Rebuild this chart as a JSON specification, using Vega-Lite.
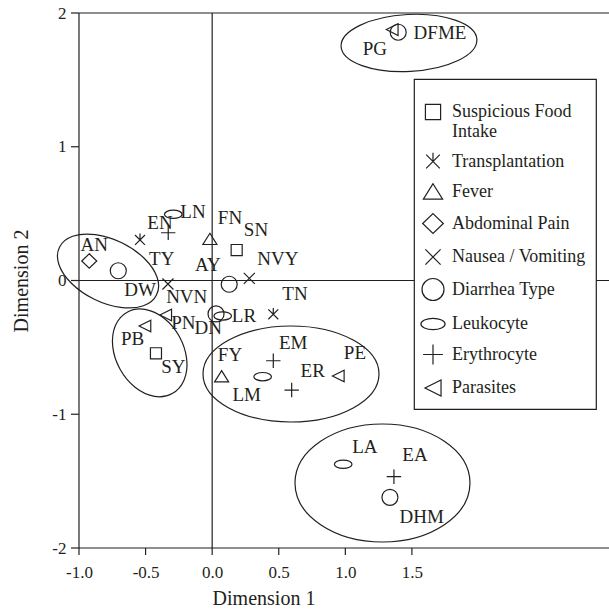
{
  "$schema": "https://vega.github.io/schema/vega-lite/v6.json",
  "autosize": "none",
  "width": 530,
  "height": 535,
  "padding": {"left": 79, "top": 13, "right": 0, "bottom": 62},
  "background": "white",
  "config": {
    "font": "Liberation Serif",
    "view": {"stroke": null},
    "axis": {
      "grid": false,
      "domain": false,
      "ticks": false,
      "labelFont": "Liberation Serif",
      "labelFontSize": 17,
      "labelColor": "#231f20",
      "titleFont": "Liberation Serif",
      "titleFontSize": 20,
      "titleFontWeight": "normal",
      "titleColor": "#231f20"
    },
    "legend": {
      "orient": "none",
      "legendX": 335,
      "legendY": 66,
      "fillColor": "white",
      "strokeColor": "#231f20",
      "strokeWidth": 1.2,
      "padding": 10,
      "titleFontSize": 8,
      "titlePadding": 3,
      "symbolOffset": -3,
      "labelOffset": 7,
      "rowPadding": 8.5,
      "labelFont": "Liberation Serif",
      "labelFontSize": 18,
      "labelColor": "#231f20",
      "labelLimit": 400,
      "symbolSize": 484,
      "symbolStrokeColor": "#231f20",
      "symbolStrokeWidth": 1.2,
      "symbolFillColor": "transparent"
    }
  },
  "datasets": {
    "points": [
      {"cat": "Suspicious Food Intake", "x": 0.184, "y": 0.228},
      {"cat": "Suspicious Food Intake", "x": -0.422, "y": -0.544},
      {"cat": "Transplantation", "x": -0.542, "y": 0.303},
      {"cat": "Transplantation", "x": 0.459, "y": -0.253},
      {"cat": "Fever", "x": -0.017, "y": 0.308},
      {"cat": "Fever", "x": 0.071, "y": -0.719},
      {"cat": "Abdominal Pain", "x": -0.923, "y": 0.146},
      {"cat": "Nausea / Vomiting", "x": -0.332, "y": -0.026},
      {"cat": "Nausea / Vomiting", "x": 0.279, "y": 0.016},
      {"cat": "Diarrhea Type", "x": -0.705, "y": 0.073},
      {"cat": "Diarrhea Type", "x": 0.128, "y": -0.028},
      {"cat": "Diarrhea Type", "x": 0.029, "y": -0.25},
      {"cat": "Diarrhea Type", "x": 1.397, "y": 1.856},
      {"cat": "Diarrhea Type", "x": 1.335, "y": -1.621},
      {"cat": "Leukocyte", "x": -0.292, "y": 0.495},
      {"cat": "Leukocyte", "x": 0.079, "y": -0.265},
      {"cat": "Leukocyte", "x": 0.379, "y": -0.719},
      {"cat": "Leukocyte", "x": 0.984, "y": -1.374},
      {"cat": "Erythrocyte", "x": -0.33, "y": 0.357},
      {"cat": "Erythrocyte", "x": 0.459, "y": -0.6},
      {"cat": "Erythrocyte", "x": 0.597, "y": -0.819},
      {"cat": "Erythrocyte", "x": 1.365, "y": -1.467},
      {"cat": "Parasites", "x": -0.349, "y": -0.258},
      {"cat": "Parasites", "x": -0.505, "y": -0.34},
      {"cat": "Parasites", "x": 0.947, "y": -0.714},
      {"cat": "Parasites", "x": 1.352, "y": 1.876}
    ],
    "labels": [
      {"label": "AN", "x": -0.885, "y": 0.265},
      {"label": "TY", "x": -0.379, "y": 0.159},
      {"label": "DW", "x": -0.542, "y": -0.071},
      {"label": "EN", "x": -0.392, "y": 0.43},
      {"label": "LN", "x": -0.144, "y": 0.512},
      {"label": "FN", "x": 0.134, "y": 0.465},
      {"label": "SN", "x": 0.329, "y": 0.378},
      {"label": "AY", "x": -0.032, "y": 0.116},
      {"label": "NVY", "x": 0.494, "y": 0.161},
      {"label": "NVN", "x": -0.191, "y": -0.126},
      {"label": "TN", "x": 0.622, "y": -0.101},
      {"label": "LR", "x": 0.239, "y": -0.265},
      {"label": "PN", "x": -0.217, "y": -0.316},
      {"label": "DN", "x": -0.029, "y": -0.357},
      {"label": "PB", "x": -0.597, "y": -0.44},
      {"label": "SY", "x": -0.292, "y": -0.644},
      {"label": "FY", "x": 0.134, "y": -0.557},
      {"label": "EM", "x": 0.609, "y": -0.465},
      {"label": "ER", "x": 0.755, "y": -0.674},
      {"label": "PE", "x": 1.072, "y": -0.544},
      {"label": "LM", "x": 0.259, "y": -0.856},
      {"label": "LA", "x": 1.147, "y": -1.243},
      {"label": "EA", "x": 1.523, "y": -1.305},
      {"label": "DHM", "x": 1.573, "y": -1.766},
      {"label": "PG", "x": 1.222, "y": 1.729},
      {"label": "DFME", "x": 1.711, "y": 1.848}
    ],
    "clusters": [
      {"cluster": "A", "x": -0.782, "y": 0.071},
      {"cluster": "B", "x": -0.469, "y": -0.541},
      {"cluster": "C", "x": 0.592, "y": -0.699},
      {"cluster": "D", "x": 1.279, "y": -1.514},
      {"cluster": "E", "x": 1.478, "y": 1.776}
    ],
    "xticks": [{"v": -1}, {"v": -0.5}, {"v": 0}, {"v": 0.5}, {"v": 1}, {"v": 1.5}],
    "yticks": [{"v": -2}, {"v": -1}, {"v": 0}, {"v": 1}, {"v": 2}],
    "vlines": [{"v": -1}, {"v": 0}],
    "hlines": [{"v": -2}, {"v": 0}, {"v": 2}]
  },
  "resolve": {"scale": {"shape": "independent"}, "legend": {"shape": "independent"}},
  "layer": [
    {
      "data": {"name": "vlines"},
      "mark": {"type": "rule", "color": "#231f20", "strokeWidth": 1.2},
      "encoding": {
        "x": {"field": "v", "type": "quantitative", "scale": {"domain": [-1, 2.98], "nice": false, "zero": false}}
      }
    },
    {
      "data": {"name": "hlines"},
      "mark": {"type": "rule", "color": "#231f20", "strokeWidth": 1.2},
      "encoding": {
        "y": {"field": "v", "type": "quantitative", "scale": {"domain": [-2, 2], "nice": false, "zero": false}}
      }
    },
    {
      "data": {"name": "xticks"},
      "mark": {"type": "tick", "orient": "vertical", "color": "#231f20", "size": 7, "thickness": 1.2, "yOffset": 3.5, "opacity": 1},
      "encoding": {
        "x": {"field": "v", "type": "quantitative", "scale": {"domain": [-1, 2.98], "nice": false, "zero": false}},
        "y": {"datum": -2, "type": "quantitative", "scale": {"domain": [-2, 2], "nice": false, "zero": false}}
      }
    },
    {
      "data": {"name": "yticks"},
      "mark": {"type": "tick", "orient": "horizontal", "color": "#231f20", "size": 8, "thickness": 1.2, "xOffset": -4, "opacity": 1},
      "encoding": {
        "y": {"field": "v", "type": "quantitative", "scale": {"domain": [-2, 2], "nice": false, "zero": false}},
        "x": {"datum": -1, "type": "quantitative", "scale": {"domain": [-1, 2.98], "nice": false, "zero": false}}
      }
    },
    {
      "data": {"name": "clusters"},
      "mark": {"type": "point", "filled": false, "color": "#231f20", "strokeWidth": 1.2, "size": 400, "opacity": 1},
      "encoding": {
        "x": {"field": "x", "type": "quantitative", "scale": {"domain": [-1, 2.98], "nice": false, "zero": false}},
        "y": {"field": "y", "type": "quantitative", "scale": {"domain": [-2, 2], "nice": false, "zero": false}},
        "shape": {
          "field": "cluster",
          "type": "nominal",
          "scale": {
            "domain": ["A", "B", "C", "D", "E"],
            "range": [
              "M-4.853,-2.367A5.4,3.1 26 1,1 4.853,2.367A5.4,3.1 26 1,1 -4.853,-2.367Z",
              "M-2.254,-4.067A4.65,3.36 61 1,1 2.254,4.067A4.65,3.36 61 1,1 -2.254,-4.067Z",
              "M-8.8,0A8.8,4.8 0 1,1 8.8,0A8.8,4.8 0 1,1 -8.8,0Z",
              "M-8.75,0A8.75,5.9 0 1,1 8.75,0A8.75,5.9 0 1,1 -8.75,0Z",
              "M-6.791,0.356A6.8,2.85 -3 1,1 6.791,-0.356A6.8,2.85 -3 1,1 -6.791,0.356Z"
            ]
          },
          "legend": null
        }
      }
    },
    {
      "data": {"name": "points"},
      "mark": {"type": "point", "filled": false, "color": "#231f20", "strokeWidth": 1.2, "size": 256, "opacity": 1},
      "encoding": {
        "x": {
          "field": "x", "type": "quantitative",
          "scale": {"domain": [-1, 2.98], "nice": false, "zero": false},
          "axis": {
            "title": "Dimension 1",
            "domain": false,
            "ticks": false,
            "values": [-1, -0.5, 0, 0.5, 1, 1.5],
            "labelExpr": "datum.value < 0 ? '-' + format(-datum.value, '.1f') : format(datum.value, '.1f')",
            "labelPadding": 16,
            "labelFlush": false,
            "labelOverlap": false,
            "titleX": 184.5,
            "titleY": 56,
            "titleBaseline": "alphabetic",
            "titleAlign": "center"
          }
        },
        "y": {
          "field": "y", "type": "quantitative",
          "scale": {"domain": [-2, 2], "nice": false, "zero": false},
          "axis": {
            "title": "Dimension 2",
            "domain": false,
            "ticks": false,
            "values": [-2, -1, 0, 1, 2],
            "labelExpr": "datum.value < 0 ? '-' + format(-datum.value, 'd') : format(datum.value, 'd')",
            "labelPadding": 13,
            "labelFlush": false,
            "labelOverlap": false,
            "titleX": -58,
            "titleY": 267.5,
            "titleAngle": -90,
            "titleBaseline": "middle",
            "titleAlign": "center"
          }
        },
        "shape": {
          "field": "cat",
          "type": "nominal",
          "scale": {
            "domain": ["Suspicious Food Intake", "Transplantation", "Fever", "Abdominal Pain", "Nausea / Vomiting", "Diarrhea Type", "Leukocyte", "Erythrocyte", "Parasites"],
            "range": [
              "M-0.69,-0.69L0.69,-0.69L0.69,0.69L-0.69,0.69Z",
              "M-0.62,-0.62L0.62,0.62M-0.62,0.62L0.62,-0.62M0,-0.8L0,0",
              "M0,-0.75L0.875,0.65L-0.875,0.65Z",
              "M0,-0.9L0.94,0L0,0.9L-0.94,0Z",
              "M-0.69,-0.69L0.69,0.69M-0.69,0.69L0.69,-0.69",
              "M-1,0A1,1 0 1,1 1,0A1,1 0 1,1 -1,0Z",
              "M-1.1,0A1.1,0.52 0 1,1 1.1,0A1.1,0.52 0 1,1 -1.1,0Z",
              "M-0.9,0L0.9,0M0,-0.9L0,0.9",
              "M-0.73,0L0.73,-0.73L0.73,0.73Z"
            ]
          },
          "legend": {
            "title": " ",
            "labelFont": "Liberation Serif",
            "labelFontSize": 18,
            "labelExpr": "datum.label == 'Suspicious Food Intake' ? ['Suspicious Food', 'Intake'] : datum.label"
          }
        }
      }
    },
    {
      "data": {"name": "labels"},
      "mark": {"type": "text", "font": "Liberation Serif", "fontSize": 19, "color": "#231f20", "align": "center", "baseline": "middle"},
      "encoding": {
        "x": {"field": "x", "type": "quantitative", "scale": {"domain": [-1, 2.98], "nice": false, "zero": false}},
        "y": {"field": "y", "type": "quantitative", "scale": {"domain": [-2, 2], "nice": false, "zero": false}},
        "text": {"field": "label", "type": "nominal"}
      }
    }
  ]
}
